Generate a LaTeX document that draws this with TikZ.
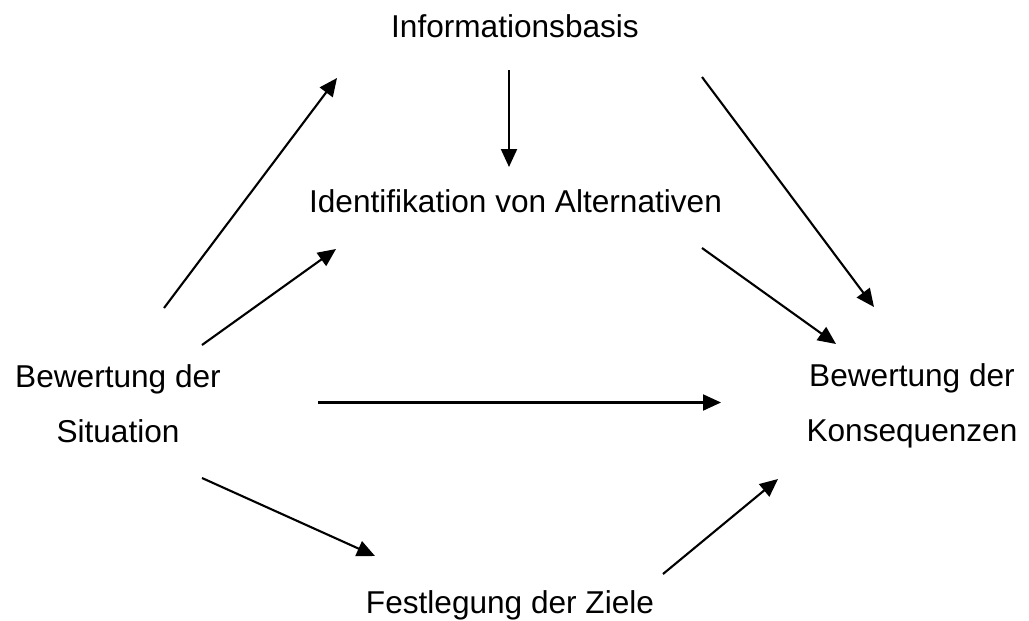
\documentclass[tikz,border=0pt]{standalone}
\usepackage{fontspec}
\setmainfont{Liberation Sans}
\usetikzlibrary{arrows.meta}
\begin{document}
\begin{tikzpicture}[x=1pt,y=-1pt,
  lbl/.style={inner sep=0pt,font=\fontsize{31.6}{54.5}\selectfont,align=center},
  conn/.style={line width=2.1pt,-{Triangle[length=18pt,width=16pt]}}]
\useasboundingbox (0,0) rectangle (1029,621);
\node[lbl,anchor=base] (info) at (515,37) {Informationsbasis};
\node[lbl,anchor=base] (alt) at (515.5,212) {Identifikation von Alternativen};
\node[lbl,anchor=base] (ziel) at (510,613) {Festlegung der Ziele};
\node[lbl,anchor=north] (sit) at (118,364.4) {Bewertung der\\Situation};
\node[lbl,anchor=north] (kons) at (912,363.4) {Bewertung der\\Konsequenzen};
% connector end points
\coordinate (s1) at (164,308); \coordinate (e1) at (337,78);
\coordinate (s2) at (202,345); \coordinate (e2) at (336,249);
\coordinate (s3) at (318,402.5); \coordinate (e3) at (721,402.5);
\coordinate (s4) at (202,478); \coordinate (e4) at (375,556);
\coordinate (s5) at (509,70); \coordinate (e5) at (509,167);
\coordinate (s6) at (702,77); \coordinate (e6) at (874,307);
\coordinate (s7) at (702,248); \coordinate (e7) at (836,344);
\coordinate (s8) at (663,574); \coordinate (e8) at (778,479);
\draw[conn] (s1) -- (e1);
\draw[conn] (s2) -- (e2);
\draw[conn] (s3) -- (e3);
\draw[conn] (s4) -- (e4);
\draw[conn] (s5) -- (e5);
\draw[conn] (s6) -- (e6);
\draw[conn] (s7) -- (e7);
\draw[conn] (s8) -- (e8);
\end{tikzpicture}
\end{document}
